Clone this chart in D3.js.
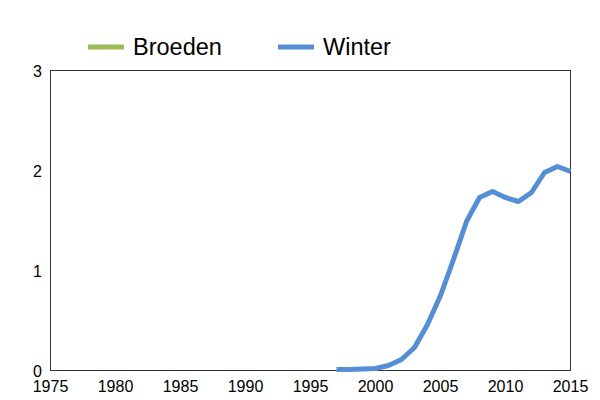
<!DOCTYPE html>
<html><head><meta charset="utf-8">
<script src="https://cdn.jsdelivr.net/npm/d3@7"></script>
<style>body{margin:0;background:#fff}svg{display:block}</style>
</head><body>
<svg id="c" width="600" height="400"></svg>
<script>
const years = [1997,1998,1999,2000,2001,2002,2003,2004,2005,2006,2007,2008,2009,2010,2011,2012,2013,2014,2015];
const winter = [0.01,0.01,0.015,0.02,0.05,0.11,0.23,0.46,0.75,1.11,1.49,1.73,1.79,1.73,1.69,1.78,1.98,2.04,1.99];
const broeden = [];
const xTicks = [1975,1980,1985,1990,1995,2000,2005,2010,2015];
const yTicks = [0,1,2,3];
const seriesNames = ["Broeden","Winter"];

const svg = d3.select("#c");
const L=50.5,R=570.5,T=70.5,B=370.5;
const x = d3.scaleLinear().domain([1975,2015]).range([L,R]);
const y = d3.scaleLinear().domain([0,3]).range([B,T]);
const font = "Liberation Sans, Arial, sans-serif";

svg.append("rect").attr("x",L).attr("y",T).attr("width",R-L).attr("height",B-T)
  .attr("fill","none").attr("stroke","#333").attr("stroke-width",1);

svg.append("g").selectAll("text").data(yTicks).join("text")
  .attr("x",42).attr("y",d=>y(d)+6).attr("text-anchor","end")
  .attr("font-family",font).attr("font-size",16).attr("fill","#000").text(d=>d);
svg.append("g").selectAll("text").data(xTicks).join("text")
  .attr("x",d=>x(d)).attr("y",392).attr("text-anchor","middle")
  .attr("font-family",font).attr("font-size",16).attr("fill","#000").text(d=>d);

const line = d3.line().x(d=>x(d[0])).y(d=>y(d[1]));
const colors = {"Broeden":"#9BBB59","Winter":"#558ED5"};
svg.append("path").datum(broeden.map((v,i)=>[years[i],v])).attr("d",line)
  .attr("fill","none").attr("stroke",colors.Broeden).attr("stroke-width",5);
svg.append("path").datum(years.map((yr,i)=>[yr,winter[i]])).attr("d",line)
  .attr("fill","none").attr("stroke",colors.Winter).attr("stroke-width",5).attr("stroke-linejoin","round");

const lg = [{n:"Broeden",x:88},{n:"Winter",x:278}];
lg.forEach(o=>{
  svg.append("line").attr("x1",o.x).attr("x2",o.x+36).attr("y1",47).attr("y2",47)
    .attr("stroke",colors[o.n]).attr("stroke-width",5);
  svg.append("text").attr("x",o.x+45).attr("y",55).attr("font-family",font)
    .attr("font-size",23.5).attr("fill","#000").text(o.n);
});
</script>
</body></html>
